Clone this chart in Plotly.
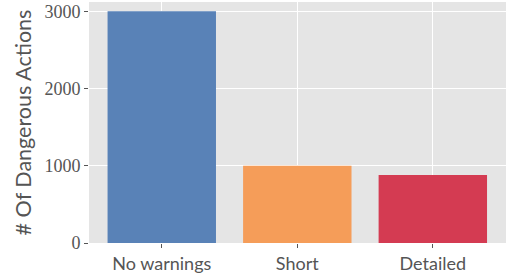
import plotly.graph_objects as go

categories = ["No warnings", "Short", "Detailed"]
values = [3000, 1000, 880]
colors = ["#5982B7", "#F59D59", "#D43B52"]

fig = go.Figure(go.Bar(x=categories, y=values, marker=dict(color=colors, line=dict(width=0)), width=0.8))

fig.update_layout(
    width=506, height=275,
    margin=dict(l=89, r=0, t=2, b=32, autoexpand=False),
    paper_bgcolor="white", plot_bgcolor="#E5E5E5",
    showlegend=False,
    font=dict(family="Lato", color="#555555", size=17),
)
fig.update_xaxes(
    range=[-0.537, 2.54], showgrid=True, gridcolor="white", gridwidth=1,
    ticks="outside", ticklen=4, tickcolor="#555555", tickwidth=1,
    tickfont=dict(family="Lato", size=18, color="#555555"),
    zeroline=False, showline=False, automargin=False,
)
fig.update_yaxes(
    range=[0, 3120], tickvals=[0, 1000, 2000, 3000], showgrid=True, gridcolor="white", gridwidth=1,
    ticks="outside", ticklen=4, tickcolor="#555555", tickwidth=1,
    tickfont=dict(family="Liberation Serif", size=18, color="#555555"),
    title=dict(text="# Of Dangerous Actions", font=dict(family="Lato", size=21.5, color="#555555"), standoff=6),
    zeroline=False, showline=False, automargin=False,
)
fig.write_html("out.html", config={"displayModeBar": False},
               post_script="document.body.style.margin='0';document.body.style.overflow='hidden';")
